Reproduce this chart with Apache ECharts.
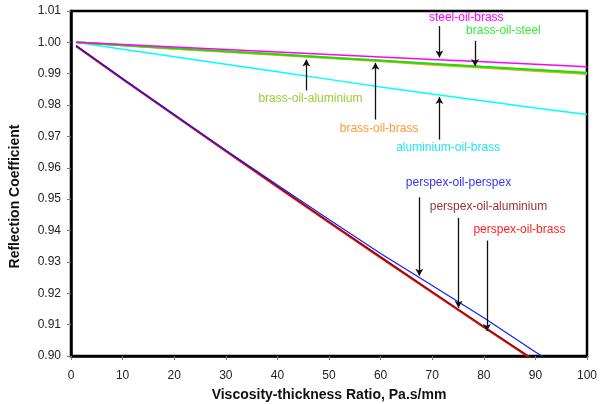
<!DOCTYPE html>
<html>
<head>
<meta charset="utf-8">
<script src="https://cdn.jsdelivr.net/npm/echarts@6/dist/echarts.min.js"></script>
<style>
  html, body { margin: 0; padding: 0; background: #fff; }
  #chart { width: 615px; height: 404px; }
</style>
</head>
<body>
<div id="chart"></div>
<script>
// x positions (viscosity-thickness ratio, Pa.s/mm)
const xValues = [1, 10, 20, 30, 40, 50, 60, 70, 80, 90, 100];

// reflection coefficient
const steelOilBrass = [1.0, 0.9993, 0.9985, 0.9977, 0.9969, 0.9961, 0.9953, 0.9945, 0.9938, 0.9930, 0.9922];
const brassOilSteel = [1.0, 0.9991, 0.9981, 0.9972, 0.9962, 0.9952, 0.9942, 0.9932, 0.9922, 0.9913, 0.9903];
const brassOilBrass = [1.0, 0.9991, 0.9980, 0.9970, 0.9960, 0.9950, 0.9940, 0.9929, 0.9919, 0.9909, 0.9899];
const brassOilAluminium = [1.0, 0.9991, 0.9980, 0.9971, 0.9961, 0.9951, 0.9941, 0.9931, 0.9921, 0.9911, 0.9901];
const aluminiumOilBrass = [1.0, 0.9978, 0.9954, 0.9930, 0.9906, 0.9882, 0.9858, 0.9835, 0.9813, 0.9791, 0.9770];
const perspexOilPerspex = [0.9988, 0.9884, 0.9769, 0.9656, 0.9545, 0.9435, 0.9327, 0.9225, 0.9122, 0.9013, 0.8910];
const perspexOilAluminium = [0.9990, 0.9885, 0.9770, 0.9655, 0.9541, 0.9428, 0.9316, 0.9205, 0.9094, 0.8985, 0.8876];
const perspexOilBrass = [0.9988, 0.9883, 0.9768, 0.9653, 0.9539, 0.9426, 0.9314, 0.9203, 0.9092, 0.8983, 0.8874];

const xTicks = [0, 10, 20, 30, 40, 50, 60, 70, 80, 90, 100];
const yTicks = [0.90, 0.91, 0.92, 0.93, 0.94, 0.95, 0.96, 0.97, 0.98, 0.99, 1.00, 1.01];

// annotations: label text, label position, arrow from -> to (data units)
const notes = [
  { text: 'steel-oil-brass', color: '#ff00ff', at: [76.6, 1.0080], from: [71.4, 1.0052], to: [71.4, 0.9952] },
  { text: 'brass-oil-steel', color: '#33ee33', at: [83.8, 1.0036], from: [78.3, 1.0005], to: [78.3, 0.9925] },
  { text: 'brass-oil-aluminium', color: '#99cc33', at: [46.4, 0.9819], from: [45.6, 0.9847], to: [45.6, 0.9945] },
  { text: 'brass-oil-brass', color: '#ff9933', at: [59.7, 0.9725], from: [59.0, 0.9754], to: [59.0, 0.9935] },
  { text: 'aluminium-oil-brass', color: '#22e6ee', at: [73.1, 0.9664], from: [71.4, 0.9690], to: [71.4, 0.9826] },
  { text: 'perspex-oil-perspex', color: '#3333ff', at: [75.1, 0.9554], from: [67.5, 0.9506], to: [67.5, 0.9256] },
  { text: 'perspex-oil-aluminium', color: '#993333', at: [80.9, 0.9477], from: [75.1, 0.9440], to: [75.1, 0.9154] },
  { text: 'perspex-oil-brass', color: '#ff2222', at: [86.9, 0.9403], from: [80.6, 0.9368], to: [80.6, 0.9080] }
];

const pairs = (ys) => xValues.map((x, i) => [x, ys[i]]);

const line = (name, ys, color, width) => ({
  name: name,
  type: 'line',
  data: pairs(ys),
  showSymbol: false,
  symbol: 'none',
  clip: true,
  lineStyle: { color: color, width: width },
  itemStyle: { color: color },
  animation: false
});

const chart = echarts.init(document.getElementById('chart'));

const series = [
  line('perspex-oil-brass', perspexOilBrass, '#ee1111', 2.2),
  line('perspex-oil-aluminium', perspexOilAluminium, '#8b0a0a', 1.3),
  line('perspex-oil-perspex', perspexOilPerspex, '#1a1aff', 1.2),
  line('aluminium-oil-brass', aluminiumOilBrass, '#00ffff', 1.5),
  line('brass-oil-brass', brassOilBrass, '#ffa033', 2),
  line('brass-oil-aluminium', brassOilAluminium, '#99cc33', 2),
  line('brass-oil-steel', brassOilSteel, '#22dd00', 2),
  line('steel-oil-brass', steelOilBrass, '#ff00ff', 1.5)
];

// arrows and annotation text, placed in data coordinates
series.push({
  type: 'line',
  data: [],
  silent: true,
  animation: false,
  markLine: {
    silent: true,
    symbol: ['none', 'arrow'],
    symbolSize: [6, 7],
    label: { show: false },
    lineStyle: { color: '#111', width: 1.3, type: 'solid' },
    data: notes.map((n) => [{ coord: n.from }, { coord: n.to }])
  },
  markPoint: {
    silent: true,
    symbol: 'circle',
    symbolSize: 0,
    data: notes.map((n) => ({
      coord: n.at,
      label: {
        show: true,
        position: 'inside',
        formatter: n.text,
        color: n.color,
        fontFamily: 'Liberation Sans, Arial, sans-serif',
        fontSize: 12
      }
    }))
  }
});

chart.setOption({
  backgroundColor: '#fff',
  animation: false,
  grid: {
    left: 71, right: 28, top: 11, bottom: 48,
    outerBoundsMode: 'none',
    containLabel: false,
    show: true,
    borderColor: '#000',
    borderWidth: 2.5,
    backgroundColor: 'transparent'
  },
  xAxis: {
    type: 'value',
    min: xTicks[0],
    max: xTicks[xTicks.length - 1],
    interval: 10,
    name: 'Viscosity-thickness Ratio, Pa.s/mm',
    nameLocation: 'middle',
    nameGap: 32,
    nameTextStyle: { fontFamily: 'Liberation Sans, Arial, sans-serif', fontSize: 14, fontWeight: 'bold', color: '#111' },
    axisLine: { show: true, onZero: false, lineStyle: { color: '#000', width: 2.5 } },
    axisTick: { show: true, inside: false, length: 4, lineStyle: { color: '#777', width: 1 } },
    axisLabel: { fontFamily: 'Liberation Sans, Arial, sans-serif', fontSize: 12, color: '#222', margin: 14 },
    splitLine: { show: false }
  },
  yAxis: {
    type: 'value',
    min: yTicks[0],
    max: yTicks[yTicks.length - 1],
    interval: 0.01,
    name: 'Reflection Coefficient',
    nameLocation: 'middle',
    nameGap: 49,
    nameTextStyle: { fontFamily: 'Liberation Sans, Arial, sans-serif', fontSize: 14, fontWeight: 'bold', color: '#111', padding: [0, 0, 0, -26] },
    axisLine: { show: true, onZero: false, lineStyle: { color: '#000', width: 2.5 } },
    axisTick: { show: true, inside: false, length: 4, lineStyle: { color: '#777', width: 1 } },
    axisLabel: {
      fontFamily: 'Liberation Sans, Arial, sans-serif', fontSize: 12, color: '#222', margin: 10,
      formatter: (v) => v.toFixed(2)
    },
    splitLine: { show: false }
  },
  series: series
});
</script>
</body>
</html>
